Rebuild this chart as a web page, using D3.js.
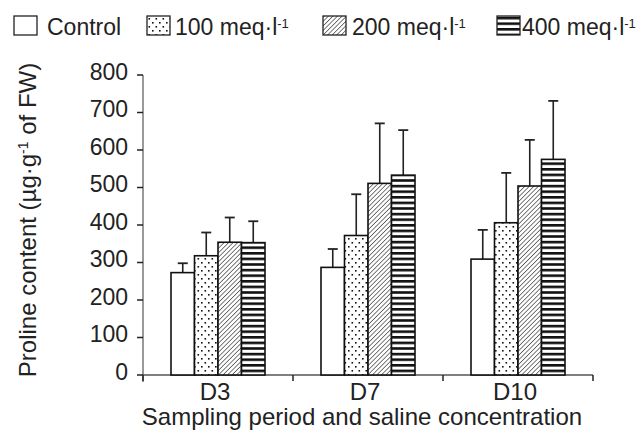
<!DOCTYPE html>
<html>
<head>
	<title>Proline content</title>
	<script src="https://d3js.org/d3.v7.min.js"></script>
	<style>
		body { margin: 0; background: #fff; }
		text { font-family: "Liberation Sans", Arial, Helvetica, sans-serif; fill: #222; }
	</style>
</head>
<body>
	<div id="chart"></div>

	<script type="text/javascript">
		// data
		var periods = ["D3", "D7", "D10"];
		var treatments = ["Control", "100", "200", "400"];
		var controlMean = [273, 287, 309];
		var controlErr = [25, 49, 78];
		var meq100Mean = [318, 372, 406];
		var meq100Err = [62, 110, 133];
		var meq200Mean = [354, 511, 504];
		var meq200Err = [66, 160, 123];
		var meq400Mean = [353, 533, 575];
		var meq400Err = [57, 120, 156];
		var yTicks = [0, 100, 200, 300, 400, 500, 600, 700, 800];

		var means = [controlMean, meq100Mean, meq200Mean, meq400Mean];
		var errs = [controlErr, meq100Err, meq200Err, meq400Err];
		var fills = ["#fff", "url(#dots)", "url(#hatch)", "url(#stripes)"];

		var rows = [];
		periods.forEach(function(p, i){
			treatments.forEach(function(t, j){
				rows.push({period: p, treat: t, mean: means[j][i], err: errs[j][i], fill: fills[j]});
			});
		});

		var width = 638, height = 430;
		var fs = 24;

		var svg = d3.select("#chart").append("svg")
			.attr("width", width)
			.attr("height", height);

		var defs = svg.append("defs");

		var dots = defs.append("pattern")
			.attr("id", "dots")
			.attr("patternUnits", "userSpaceOnUse")
			.attr("width", 7).attr("height", 8);
		dots.append("rect").attr("width", 7).attr("height", 8).attr("fill", "#fff");
		dots.append("rect").attr("x", 1.5).attr("y", 2).attr("width", 1.6).attr("height", 1.6).attr("fill", "#111");
		dots.append("rect").attr("x", 5).attr("y", 6).attr("width", 1.6).attr("height", 1.6).attr("fill", "#111");

		var hatch = defs.append("pattern")
			.attr("id", "hatch")
			.attr("patternUnits", "userSpaceOnUse")
			.attr("width", 3.2).attr("height", 5)
			.attr("patternTransform", "rotate(45)");
		hatch.append("rect").attr("width", 3.2).attr("height", 5).attr("fill", "#fff");
		hatch.append("line").attr("x1", 0).attr("y1", 0).attr("x2", 0).attr("y2", 5)
			.attr("stroke", "#222").attr("stroke-width", 1.2);

		var stripes = defs.append("pattern")
			.attr("id", "stripes")
			.attr("patternUnits", "userSpaceOnUse")
			.attr("width", 8).attr("height", 5.6);
		stripes.append("rect").attr("width", 8).attr("height", 5.6).attr("fill", "#fff");
		stripes.append("rect").attr("y", 0).attr("width", 8).attr("height", 2.6).attr("fill", "#111");

		var y = d3.scaleLinear().domain([0, 800]).range([375, 75]);
		var x = d3.scaleBand().domain(periods).range([143, 593]);
		var xi = d3.scaleBand().domain(treatments).range([28, 122]);

		// y axis
		svg.append("line")
			.attr("x1", 143).attr("x2", 143)
			.attr("y1", y(800)).attr("y2", 382)
			.attr("stroke", "#777").attr("stroke-width", 1.5);
		var yt = svg.append("g").selectAll("g").data(yTicks).enter().append("g");
		yt.append("line")
			.attr("x1", 137).attr("x2", 143)
			.attr("y1", function(d){ return y(d); })
			.attr("y2", function(d){ return y(d); })
			.attr("stroke", "#222").attr("stroke-width", 1.5);
		yt.append("text")
			.attr("x", 128)
			.attr("y", function(d){ return y(d); })
			.attr("dy", "0.2em")
			.attr("text-anchor", "end")
			.style("font-size", "23px")
			.text(function(d){ return d; });

		// x axis
		svg.append("line")
			.attr("x1", 143).attr("x2", 593)
			.attr("y1", y(0)).attr("y2", y(0))
			.attr("stroke", "#555").attr("stroke-width", 1.5);
		var bounds = periods.map(function(p){ return x(p); }).concat([x(periods[2]) + x.bandwidth()]);
		svg.append("g").selectAll("line").data(bounds).enter().append("line")
			.attr("x1", function(d){ return d; }).attr("x2", function(d){ return d; })
			.attr("y1", y(0)).attr("y2", y(0) + 6)
			.attr("stroke", "#222").attr("stroke-width", 1.5);
		svg.append("g").selectAll("text").data(periods).enter().append("text")
			.attr("x", function(d){ return x(d) + x.bandwidth() / 2 - 3; })
			.attr("y", 400)
			.attr("text-anchor", "middle")
			.style("font-size", fs + "px")
			.text(function(d){ return d; });

		svg.append("text")
			.attr("x", 362)
			.attr("y", 425)
			.attr("text-anchor", "middle")
			.style("font-size", fs + "px")
			.text("Sampling period and saline concentration");

		var yl = svg.append("text")
			.attr("transform", "translate(36,220) rotate(-90)")
			.attr("text-anchor", "middle")
			.style("font-size", fs + "px");
		yl.append("tspan").text("Proline content (µg·g");
		yl.append("tspan").attr("baseline-shift", "super").style("font-size", "14px").text("-1");
		yl.append("tspan").text(" of FW)");

		// bars
		var bars = svg.append("g").selectAll("g").data(rows).enter().append("g");
		bars.append("line")
			.attr("x1", function(d){ return x(d.period) + xi(d.treat) + xi.bandwidth() / 2; })
			.attr("x2", function(d){ return x(d.period) + xi(d.treat) + xi.bandwidth() / 2; })
			.attr("y1", function(d){ return y(d.mean); })
			.attr("y2", function(d){ return y(d.mean + d.err); })
			.attr("stroke", "#222").attr("stroke-width", 1.6);
		bars.append("line")
			.attr("x1", function(d){ return x(d.period) + xi(d.treat) + xi.bandwidth() / 2 - 5; })
			.attr("x2", function(d){ return x(d.period) + xi(d.treat) + xi.bandwidth() / 2 + 5; })
			.attr("y1", function(d){ return y(d.mean + d.err); })
			.attr("y2", function(d){ return y(d.mean + d.err); })
			.attr("stroke", "#222").attr("stroke-width", 1.8);
		bars.append("rect")
			.attr("x", function(d){ return x(d.period) + xi(d.treat); })
			.attr("y", function(d){ return y(d.mean); })
			.attr("width", xi.bandwidth())
			.attr("height", function(d){ return y(0) - y(d.mean); })
			.attr("fill", function(d){ return d.fill; })
			.attr("stroke", "#111").attr("stroke-width", 1.6);

		// legend
		var legX = [14, 147, 323, 497];
		var legTextX = [47, 175, 352, 522];
		var leg = svg.append("g").selectAll("g").data(treatments).enter().append("g");
		leg.append("rect")
			.attr("x", function(d, i){ return legX[i]; })
			.attr("y", 16)
			.attr("width", i => 23).attr("height", 19)
			.attr("fill", function(d, i){ return fills[i]; })
			.attr("stroke", "#222").attr("stroke-width", 1.3);
		var lt = leg.append("text")
			.attr("x", function(d, i){ return legTextX[i]; })
			.attr("y", 35)
			.style("font-size", "23px");
		lt.append("tspan").text(function(d){ return d == "Control" ? "Control" : d + " meq·l"; });
		lt.filter(function(d){ return d != "Control"; })
			.append("tspan").attr("baseline-shift", "super").style("font-size", "13px").text("-1");
	</script>
</body>
</html>
